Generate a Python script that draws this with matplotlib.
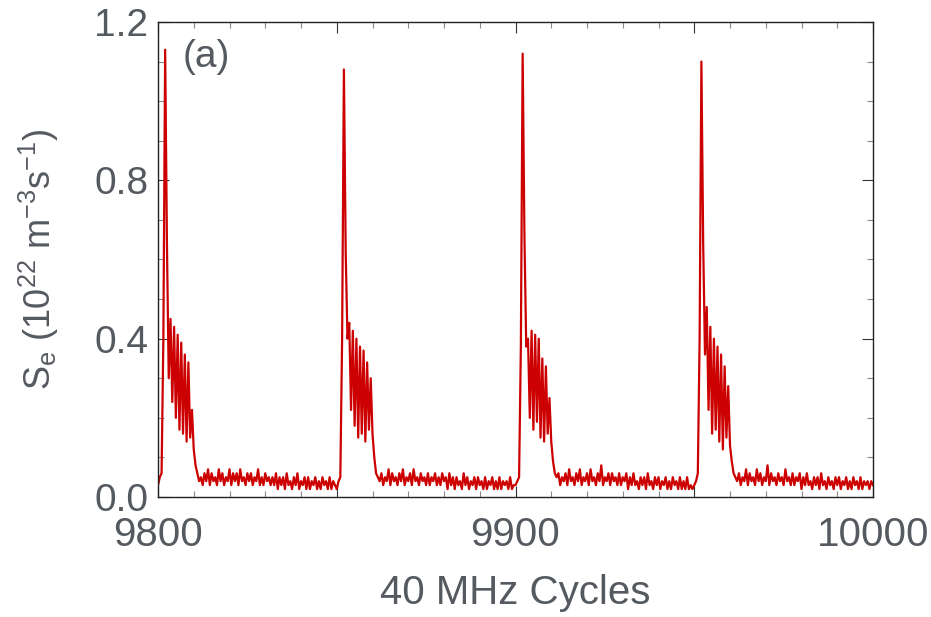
import numpy as np
import matplotlib
matplotlib.use("Agg")
import matplotlib.pyplot as plt
from matplotlib.ticker import MultipleLocator, FuncFormatter

# Sample spacing (40 MHz cycles) and segment starts
step = 0.5
seg_starts = [9800, 9850, 9900, 9950]

# S_e values (10^22 m^-3 s^-1), one list per 50-cycle segment
pulse1 = [0.03, 0.05, 0.06, 0.40, 1.13, 0.64, 0.30, 0.45, 0.24, 0.43,
          0.20, 0.41, 0.17, 0.39, 0.16, 0.36, 0.14, 0.34, 0.15, 0.22,
          0.12, 0.08, 0.06, 0.04,
          0.05, 0.03, 0.06, 0.04, 0.07, 0.03, 0.06, 0.04, 0.05, 0.03,
          0.07, 0.04, 0.06, 0.03, 0.05, 0.04, 0.07, 0.03, 0.06, 0.04,
          0.06, 0.03, 0.07, 0.04, 0.05, 0.03, 0.06, 0.04, 0.06, 0.03,
          0.05, 0.04, 0.07, 0.03, 0.05, 0.03, 0.06, 0.04, 0.05, 0.03,
          0.05, 0.03, 0.06, 0.02, 0.05, 0.03, 0.05, 0.02, 0.06, 0.03,
          0.04, 0.02, 0.05, 0.03, 0.06, 0.02, 0.04, 0.03, 0.05, 0.02,
          0.05, 0.02, 0.04, 0.03, 0.05, 0.02, 0.04, 0.02, 0.05, 0.03,
          0.04, 0.02, 0.05, 0.02, 0.04, 0.03]
pulse2 = [0.02, 0.04, 0.05, 0.40, 1.08, 0.62, 0.40, 0.44, 0.22, 0.42,
          0.18, 0.40, 0.15, 0.38, 0.16, 0.37, 0.14, 0.34, 0.17, 0.30,
          0.16, 0.10, 0.06, 0.05,
          0.04, 0.06, 0.03, 0.05, 0.04, 0.07, 0.03, 0.06, 0.04, 0.05,
          0.03, 0.06, 0.04, 0.07, 0.03, 0.05, 0.04, 0.06, 0.03, 0.07,
          0.04, 0.05, 0.03, 0.06, 0.04, 0.05, 0.03, 0.06, 0.03, 0.05,
          0.04, 0.06, 0.03, 0.05, 0.03, 0.06, 0.04, 0.05, 0.02, 0.06,
          0.03, 0.05, 0.02, 0.05, 0.03, 0.04, 0.02, 0.06, 0.03, 0.05,
          0.02, 0.04, 0.03, 0.05, 0.02, 0.05, 0.03, 0.04, 0.02, 0.05,
          0.02, 0.04, 0.03, 0.05, 0.02, 0.04, 0.02, 0.05, 0.02, 0.04,
          0.03, 0.04, 0.02, 0.05, 0.02, 0.03]
pulse3 = [0.03, 0.04, 0.05, 0.38, 1.12, 0.66, 0.38, 0.40, 0.20, 0.42,
          0.17, 0.41, 0.19, 0.40, 0.15, 0.35, 0.14, 0.33, 0.16, 0.25,
          0.14, 0.09, 0.06, 0.05,
          0.06, 0.03, 0.05, 0.04, 0.06, 0.03, 0.07, 0.04, 0.05, 0.03,
          0.06, 0.04, 0.07, 0.03, 0.05, 0.04, 0.06, 0.03, 0.07, 0.04,
          0.05, 0.03, 0.06, 0.04, 0.08, 0.03, 0.05, 0.04, 0.06, 0.03,
          0.06, 0.04, 0.05, 0.03, 0.06, 0.03, 0.05, 0.04, 0.06, 0.02,
          0.05, 0.03, 0.06, 0.03, 0.04, 0.02, 0.05, 0.03, 0.05, 0.02,
          0.06, 0.03, 0.04, 0.02, 0.05, 0.03, 0.05, 0.02, 0.04, 0.03,
          0.05, 0.02, 0.04, 0.02, 0.05, 0.03, 0.04, 0.02, 0.05, 0.02,
          0.04, 0.02, 0.05, 0.02, 0.03, 0.02]
pulse4 = [0.03, 0.04, 0.06, 0.40, 1.10, 0.64, 0.36, 0.48, 0.22, 0.43,
          0.16, 0.40, 0.17, 0.38, 0.14, 0.36, 0.12, 0.33, 0.15, 0.28,
          0.13, 0.09, 0.06, 0.05,
          0.04, 0.06, 0.03, 0.05, 0.04, 0.07, 0.03, 0.06, 0.04, 0.05,
          0.03, 0.07, 0.04, 0.06, 0.03, 0.05, 0.04, 0.08, 0.03, 0.06,
          0.04, 0.05, 0.03, 0.06, 0.04, 0.05, 0.03, 0.07, 0.04, 0.05,
          0.03, 0.06, 0.03, 0.05, 0.04, 0.06, 0.02, 0.05, 0.03, 0.06,
          0.03, 0.04, 0.02, 0.05, 0.03, 0.05, 0.02, 0.06, 0.03, 0.04,
          0.02, 0.05, 0.03, 0.04, 0.02, 0.05, 0.03, 0.05, 0.02, 0.04,
          0.03, 0.05, 0.02, 0.04, 0.02, 0.05, 0.03, 0.04, 0.02, 0.05,
          0.02, 0.04, 0.03, 0.04, 0.02, 0.04, 0.03]

segments = [pulse1, pulse2, pulse3, pulse4]
t_parts, s_parts = [], []
for start, seg in zip(seg_starts, segments):
    t_parts.append(start + step * np.arange(len(seg)))
    s_parts.append(np.array(seg))
t = np.concatenate(t_parts)
se = np.concatenate(s_parts)

xticks_labeled = [9800, 9900, 10000]
yticks = [0.0, 0.4, 0.8, 1.2]

text_color = "#555a60"
plt.rcParams['font.family'] = ['Liberation Sans', 'DejaVu Sans']

fig = plt.figure(figsize=(9.31, 6.17), dpi=100)
ax = fig.add_axes([158/931, 1-497/617, (873-158)/931, (497-22)/617])
ax.plot(t, se, color="#cc0000", lw=1.6)

ax.set_xlim(9800, 10000)
ax.set_ylim(0, 1.2)
ax.xaxis.set_major_locator(MultipleLocator(50))
ax.xaxis.set_minor_locator(MultipleLocator(10))
ax.xaxis.set_major_formatter(FuncFormatter(
    lambda v, p: f"{int(round(v))}" if int(round(v)) in xticks_labeled else ""))
ax.set_yticks(yticks)
ax.yaxis.set_minor_locator(MultipleLocator(0.1))
ax.yaxis.set_major_formatter(FuncFormatter(lambda v, p: f"{v:.1f}"))

for sp in ax.spines.values():
    sp.set_color("#222222")
    sp.set_linewidth(1.0)
ax.tick_params(which="both", direction="in", top=True, right=True,
               color="#333333", width=0.8)
ax.tick_params(which="major", length=8, labelcolor=text_color)
ax.tick_params(axis="x", which="major", labelsize=29, pad=14)
ax.tick_params(axis="y", which="major", labelsize=28, pad=7)
ax.tick_params(which="minor", length=4, color="#888888")

ax.set_xlabel("40 MHz Cycles", fontsize=29, color=text_color, labelpad=14)
ax.set_ylabel(r"S$_{\mathregular{e}}$ (10$^{\mathregular{22}}$ m$^{\mathregular{-3}}$s$^{\mathregular{-1}}$)",
              fontsize=26, color=text_color)
ax.yaxis.set_label_coords(-0.135, 0.5)
ax.text(0.035, 0.965, "(a)", transform=ax.transAxes, fontsize=28,
        color=text_color, va="top", ha="left")

fig.savefig("out.png", dpi=100)
